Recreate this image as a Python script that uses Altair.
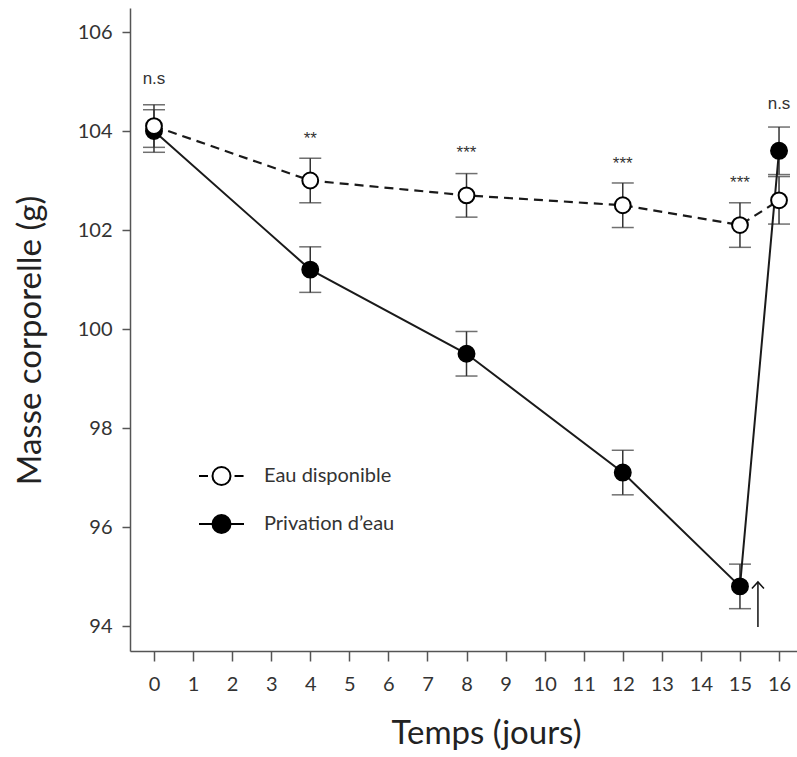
import altair as alt
import pandas as pd

# ---- data ----
days = [0, 4, 8, 12, 15, 16]
series_names = ["Eau disponible", "Privation d\u2019eau"]
eau_mean = [104.1, 103.0, 102.7, 102.5, 102.1, 102.6]
eau_err = [0.43, 0.45, 0.44, 0.45, 0.45, 0.48]
priv_mean = [104.0, 101.2, 99.5, 97.1, 94.8, 103.6]
priv_err = [0.43, 0.46, 0.45, 0.45, 0.45, 0.48]

sig_days = [0, 4, 8, 12, 15, 16]
sig_labels = ["n.s", "**", "***", "***", "***", "n.s"]
sig_y = [104.95, 103.74, 103.46, 103.24, 102.85, 104.44]

arrow_x = [15.46]
arrow_y_tip = [94.89]
arrow_y_base = [93.98]

x_ticks = list(range(0, 17))
y_ticks = [94, 96, 98, 100, 102, 104, 106]

rows = []
for name, means, errs in [(series_names[0], eau_mean, eau_err),
                          (series_names[1], priv_mean, priv_err)]:
    for d, m, e in zip(days, means, errs):
        rows.append({"series": name, "day": d, "mass": m, "lo": m - e, "hi": m + e})
df = pd.DataFrame(rows)
df_eau = df[df.series == series_names[0]]
df_priv = df[df.series == series_names[1]]

sig_df = pd.DataFrame({"day": sig_days, "label": sig_labels, "y": sig_y})
arrow_df = pd.DataFrame({"x": arrow_x, "tip": arrow_y_tip, "base": arrow_y_base})

xs = alt.Scale(domain=[-0.614, 16.46], nice=False, zero=False)
ys = alt.Scale(domain=[93.495, 106.485], nice=False, zero=False)

x_axis = alt.Axis(values=x_ticks, tickSize=10, labelPadding=13, labelFlush=False,
                  title="Temps (jours)", titleX=356, titleY=92,
                  titleAlign="center", titleBaseline="alphabetic")
y_axis = alt.Axis(values=y_ticks, tickSize=8, labelPadding=10,
                  title="Masse corporelle (g)", titleX=-90, titleY=332,
                  titleAlign="center", titleBaseline="alphabetic", titleAngle=-90)

X = alt.X("day:Q", scale=xs, axis=x_axis)
Y = alt.Y("mass:Q", scale=ys, axis=y_axis)

fill_scale = alt.Scale(domain=series_names, range=["white", "black"])
eau_sym = "M-1,0L-0.6,0M0.58,0L0.98,0M0.4,0A0.4,0.4,0,1,1,-0.4,0A0.4,0.4,0,1,1,0.4,0Z"
priv_sym = "M-1,0L-0.4,0M0.4,0L1,0M0.4,0A0.4,0.4,0,1,1,-0.4,0A0.4,0.4,0,1,1,0.4,0Z"
shape_scale = alt.Scale(domain=series_names, range=[eau_sym, priv_sym])

legend = alt.Legend(title=None, orient="none", legendX=68, legendY=444.5,
                    padding=0, symbolSize=2025, symbolStrokeColor="black",
                    symbolStrokeWidth=2, labelFont="Lato", labelFontSize=20,
                    labelColor="#333", labelOffset=19, rowPadding=11)

base = alt.Chart(df)

err_rule = base.mark_rule(color="#333", strokeWidth=1.5).encode(
    x=X, y=alt.Y("lo:Q", scale=ys), y2="hi:Q")
cap_lo = base.mark_tick(color="#333", thickness=1.5, size=22, orient="horizontal").encode(
    x=X, y=alt.Y("lo:Q", scale=ys))
cap_hi = base.mark_tick(color="#333", thickness=1.5, size=22, orient="horizontal").encode(
    x=X, y=alt.Y("hi:Q", scale=ys))

line_priv = alt.Chart(df_priv).mark_line(color="#1a1a1a", strokeWidth=2).encode(
    x=X, y=Y, order="day:Q")
line_eau = alt.Chart(df_eau).mark_line(color="#1a1a1a", strokeWidth=2.2,
                                       strokeDash=[9, 6]).encode(
    x=X, y=Y, order="day:Q")

pts_priv = alt.Chart(df_priv).mark_point(shape="circle", filled=True, size=270,
                                          stroke="black", strokeWidth=1.5, opacity=1).encode(
    x=X, y=Y, fill=alt.Fill("series:N", scale=fill_scale, legend=legend))
pts_eau = alt.Chart(df_eau).mark_point(shape="circle", filled=True, size=250,
                                        stroke="black", strokeWidth=2, opacity=1).encode(
    x=X, y=Y, fill=alt.Fill("series:N", scale=fill_scale, legend=legend))

legend_layer = base.mark_point(filled=True, stroke="black", strokeWidth=2, opacity=1).encode(
    x=X, y=Y,
    fill=alt.Fill("series:N", scale=fill_scale, legend=legend),
    shape=alt.Shape("series:N", scale=shape_scale, legend=legend),
).transform_filter("false")

sig = alt.Chart(sig_df).mark_text(font="Liberation Sans", fontSize=17, color="#333",
                                  align="center", baseline="alphabetic").encode(
    x=alt.X("day:Q", scale=xs), y=alt.Y("y:Q", scale=ys), text="label:N")

arrow_shaft = alt.Chart(arrow_df).mark_rule(color="#111", strokeWidth=1.5).encode(
    x=alt.X("x:Q", scale=xs), y=alt.Y("tip:Q", scale=ys), y2="base:Q")
arrow_head = alt.Chart(arrow_df).mark_point(shape="M-1,1.1L0,0L1,1.1", size=144,
                                            filled=False, color="#111", strokeWidth=1.5,
                                            opacity=1).encode(
    x=alt.X("x:Q", scale=xs), y=alt.Y("tip:Q", scale=ys))

chart = alt.layer(
    err_rule, cap_lo, cap_hi, line_priv, line_eau, pts_priv, pts_eau, legend_layer,
    sig, arrow_shaft, arrow_head
).properties(
    width=667, height=643,
    padding={"left": 130, "top": 8, "right": 0, "bottom": 106},
    autosize=alt.AutoSizeParams(type="none"),
    background="white",
).configure_view(stroke=None).configure_axis(
    grid=False, domainColor="#555", domainWidth=1.5, tickColor="#555", tickWidth=1.5,
    labelFont="Lato", labelFontSize=20, labelColor="#333",
    titleFont="Lato", titleFontSize=33, titleFontWeight="normal", titleColor="#222",
)

chart.save("out.html", embed_options={"renderer": "svg", "actions": False})
